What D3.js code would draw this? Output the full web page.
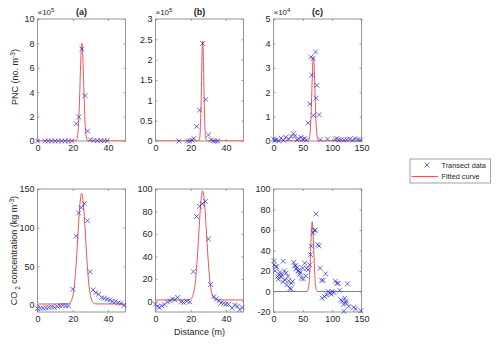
<!DOCTYPE html>
<html>
<head>
<meta charset="utf-8">
<script src="https://cdn.jsdelivr.net/npm/d3@7"></script>
<style>
body { margin: 0; background: #fff; }
text { font-family: "Liberation Sans", Arial, Helvetica, sans-serif; fill: #262626; }
</style>
</head>
<body>
<div id="chart"></div>
<script>
// panel titles + axis limits / ticks
var panelTitles = ["(a)", "(b)", "(c)"];
var xLimAB = [0, 50], xLimC = [0, 150];
var xTicksAB = [0, 20, 40], xTicksC = [0, 50, 100, 150];
var pncLimA = [0, 10], pncLimB = [0, 3], pncLimC = [0, 5];
var pncTicksA = [0, 2, 4, 6, 8, 10];
var pncTicksB = [0, 0.5, 1, 1.5, 2, 2.5, 3];
var pncTicksC = [0, 1, 2, 3, 4, 5];
var pncExp = ["5", "5", "4"];
var co2LimA = [-9, 150], co2LimB = [-9.5, 100], co2LimC = [-20, 100];
var co2TicksA = [0, 50, 100, 150];
var co2TicksB = [0, 20, 40, 60, 80, 100];
var co2TicksC = [-20, 0, 20, 40, 60, 80, 100];

// PNC transect data (x10^5 / x10^4)
var pncAx = [0, 4.2, 6.1, 8, 10, 11.8, 13.8, 15.7, 17.6, 19.5, 22, 23.5, 25.2, 27, 28.5, 30, 32, 34, 36, 37.9, 39.6];
var pncAy = [0, 0, 0, 0, 0, 0, 0, 0, 0, 0, 1.42, 1.97, 7.55, 3.72, 0.82, 0.1, 0.05, 0.03, 0.02, 0.02, 0.02];
var pncBx = [13.3, 18.2, 19.5, 20.8, 21.8, 23.4, 25.1, 26.8, 28.6, 30.1, 31.5, 32.9, 34.1, 35.4];
var pncBy = [0, 0, 0, 0.02, 0.06, 0.36, 0.76, 2.4, 1.02, 0.15, 0.03, 0, 0, 0];
var pncCx = [0, 2, 5, 9, 13, 17, 21, 26, 30, 34, 36, 40, 43, 47, 50, 53, 56, 59, 62, 65, 63.7, 67.4, 71.7, 73.9, 72.8, 68.3, 77.7, 80, 92, 105, 108, 111, 115, 120, 125, 130, 135, 139, 144, 148];
var pncCy = [0.08, 0.03, 0.05, 0, 0.12, 0.03, 0.15, 0.08, 0.18, 0.3, 0.2, 0.05, 0.1, 0.15, 0.07, 0.1, 0.04, 0.74, 1.52, 2.7, 3.44, 3.38, 3.65, 2.28, 1.76, 1.05, 1.08, 0.05, 0.08, 0.06, 0.1, 0.04, 0.05, 0.04, 0.06, 0.08, 0.03, 0.1, 0.06, 0.04];

// PNC fitted curves
var fitPncAx = [0, 21, 22, 22.5, 23, 23.5, 24, 24.5, 25, 25.2, 25.5, 26, 26.5, 27, 27.5, 28, 28.5, 29, 50];
var fitPncAy = [0, 0, 0.05, 0.21, 0.71, 1.89, 3.9, 6.26, 7.84, 8.0, 7.65, 5.81, 3.44, 1.58, 0.57, 0.16, 0.03, 0, 0];
var fitPncBx = [0, 24, 24.5, 25, 25.5, 26, 26.3, 26.55, 26.8, 27.05, 27.3, 27.6, 28.1, 28.6, 29.1, 29.6, 50];
var fitPncBy = [0, 0, 0.005, 0.05, 0.33, 1.15, 1.82, 2.28, 2.45, 2.28, 1.82, 1.15, 0.33, 0.05, 0.005, 0, 0];
var fitPncCx = [0, 59, 60, 61, 62, 63, 64, 65, 66, 67, 68, 69, 70, 71, 72, 73, 74, 75, 76, 77, 150];
var fitPncCy = [0, 0, 0.03, 0.09, 0.24, 0.54, 1.06, 1.77, 2.57, 3.2, 3.45, 3.2, 2.57, 1.77, 1.06, 0.54, 0.24, 0.09, 0.03, 0, 0];

// CO2 transect data
var co2Ax = [0, 1.6, 3.2, 4.8, 6.4, 8, 9.6, 11.2, 12.8, 14.4, 16, 17.6, 20, 21.9, 23.4, 24.9, 26.6, 28.4, 29.9, 31.6, 33.1, 34.7, 36.5, 38, 39.5, 41, 42.5, 44.2, 45.9, 47.4, 49.1];
var co2Ay = [-4.5, -4, -4, -3.5, -3, -2.5, -3, -2, -1, -0.5, -1, -1, 20.5, 89, 119, 126, 131, 109, 43, 19.5, 16, 14, 9.5, 8.7, 7.4, 6.5, 4.8, 4.3, 3, 2.2, -0.5];
var co2Bx = [0, 1, 2.2, 3.5, 5, 6.8, 8.3, 9.7, 11, 12.6, 14.5, 16, 17.8, 19.5, 21.5, 23.3, 25, 26.6, 28.4, 30.1, 31.3, 33.2, 34.6, 36, 37.2, 38.7, 40, 41.5, 43.5, 45, 46.5, 47.8, 49.2];
var co2By = [-2.5, -4.5, -5.5, -4, -3, -0.5, 0.5, 2, 1.5, 3.5, -0.5, -1, 0, -0.5, 26.5, 75.5, 84.5, 86.8, 89, 55.5, 15, 4.2, 2.2, 0.5, -1.5, -1.8, -2.5, -2.7, -6, -3.3, -4.3, -7.5, -5.5];
var co2Cx = [0.8, 1, 4, 3, 5.4, 6.9, 8, 10.3, 11, 12.6, 14, 15.5, 16.3, 18.9, 19.6, 21.2, 22.5, 24.6, 25.8, 28, 30, 30.3, 32.6, 34.5, 36, 37.8, 38.5, 40.6, 41.5, 42.9, 44.6, 45.5, 47.5, 49.8, 51, 53.2, 55, 56.5, 59, 61.8, 63.2, 64.3, 67.7, 69.8, 72.5, 71, 75.5, 77.5, 79.6, 81.9, 84.5, 88.8, 83, 87, 90.5, 93.3, 96.2, 98.5, 100, 103, 105.3, 108, 110.3, 112.8, 114.5, 117.3, 119.5, 121.4, 123.6, 126, 124, 128.3, 120, 136.8, 140, 148.8];
var co2Cy = [30, 26, 24.4, 20, 24, 14.7, 12, 16.3, 18.7, 14, 16, 9.4, 29.5, 20.2, 11.2, 17.9, 6.5, 14.7, 10.4, 3, 2.3, 8.1, 9.8, 28.5, 25, 25.1, 22, 23.5, 20, 20.5, 16.9, 18.7, 13, 22.8, 12.2, 27.7, 15.3, 22.6, 21.2, 26, 36, 44.3, 57.2, 59.6, 75.6, 60, 45.8, 44.5, 22.7, 11, 10.8, 17.3, -6.6, -4.9, -3.3, 0, -1.7, -2.6, 0, -1, 10, 8, 8, 1.2, -8.2, -9.5, -12.5, -6.5, -9.5, 7.5, -11.5, -14.5, -19.3, -15.5, -17, -18.7];

// CO2 fitted curves
var fitCo2Ax = [0, 17.1, 18.1, 19.1, 20.1, 21.1, 22.1, 23.1, 24.1, 25.1, 26.1, 27.1, 28.1, 29.1, 30.1, 31.1, 32.1, 33.1, 50];
var fitCo2Ay = [1.3, 1.5, 2.2, 4.8, 12.1, 28.6, 57.8, 95.8, 130.3, 144.3, 130.3, 95.8, 57.8, 28.6, 12.1, 4.8, 2.2, 1.5, 1.3];
var fitCo2Bx = [0, 18.8, 19.8, 20.8, 21.8, 22.8, 23.8, 24.8, 25.8, 26.8, 27.8, 28.8, 29.8, 30.8, 31.8, 32.8, 33.8, 34.8, 50];
var fitCo2By = [1.2, 1.3, 1.8, 3.6, 8.5, 19.7, 39.5, 65.4, 88.7, 98.2, 88.7, 65.4, 39.5, 19.7, 8.5, 3.6, 1.8, 1.3, 1.2];
var fitCo2Cx = [0, 57, 58, 59, 60, 61, 62, 63, 64, 65, 66, 67, 68, 69, 70, 71, 72, 73, 74, 75, 150];
var fitCo2Cy = [0, 0, 0.6, 1.8, 4.7, 10.7, 20.8, 35, 50.6, 63.2, 68, 63.2, 50.6, 35, 20.8, 10.7, 4.7, 1.8, 0.6, 0, 0];

var legendLabels = ["Transect data", "Fitted curve"];

var W = 500, H = 346;
var markColor = "#2a2ad2", fitColor = "#e8282e", boxColor = "#8a8a8a";

var svg = d3.select('#chart').append('svg')
	.attr('width', W)
	.attr('height', H);

var colLeft = [37.5, 155.5, 273.5], panelW = 88;
var rowTop = [19, 189], rowH = [122, 123];

function zip(a, b) { return a.map(function(v, i) { return [v, b[i]]; }); }
var fmt = function(d) { return String(d); };

var panels = [
	{ row: 0, col: 0, xLim: xLimAB, xTicks: xTicksAB, yLim: pncLimA, yTicks: pncTicksA, pts: zip(pncAx, pncAy), fit: zip(fitPncAx, fitPncAy) },
	{ row: 0, col: 1, xLim: xLimAB, xTicks: xTicksAB, yLim: pncLimB, yTicks: pncTicksB, pts: zip(pncBx, pncBy), fit: zip(fitPncBx, fitPncBy) },
	{ row: 0, col: 2, xLim: xLimC, xTicks: xTicksC, yLim: pncLimC, yTicks: pncTicksC, pts: zip(pncCx, pncCy), fit: zip(fitPncCx, fitPncCy) },
	{ row: 1, col: 0, xLim: xLimAB, xTicks: xTicksAB, yLim: co2LimA, yTicks: co2TicksA, pts: zip(co2Ax, co2Ay), fit: zip(fitCo2Ax, fitCo2Ay) },
	{ row: 1, col: 1, xLim: xLimAB, xTicks: xTicksAB, yLim: co2LimB, yTicks: co2TicksB, pts: zip(co2Bx, co2By), fit: zip(fitCo2Bx, fitCo2By) },
	{ row: 1, col: 2, xLim: xLimC, xTicks: xTicksC, yLim: co2LimC, yTicks: co2TicksC, pts: zip(co2Cx, co2Cy), fit: zip(fitCo2Cx, fitCo2Cy) }
];

var crossPath = "M-2.4,-2.4L2.4,2.4M-2.4,2.4L2.4,-2.4";

panels.forEach(function(p, i) {
	var x0 = colLeft[p.col], y0 = rowTop[p.row], h = rowH[p.row];
	var x = d3.scaleLinear().domain(p.xLim).range([0, panelW]);
	var y = d3.scaleLinear().domain(p.yLim).range([h, 0]);
	var g = svg.append('g').attr('transform', 'translate(' + x0 + ',' + y0 + ')');

	g.append('clipPath').attr('id', 'clip' + i)
		.append('rect').attr('width', panelW).attr('height', h);

	// axes (ticks inside, mirrored on top/right)
	var tk = 2;
	g.append('g').attr('transform', 'translate(0,' + h + ')')
		.call(d3.axisBottom(x).tickValues(p.xTicks).tickFormat(fmt).tickSizeInner(-tk).tickSizeOuter(0).tickPadding(4));
	g.append('g')
		.call(d3.axisLeft(y).tickValues(p.yTicks).tickFormat(fmt).tickSizeInner(-tk).tickSizeOuter(0).tickPadding(3));
	g.append('g').call(d3.axisTop(x).tickValues(p.xTicks).tickSizeInner(-tk).tickSizeOuter(0).tickFormat(''));
	g.append('g').attr('transform', 'translate(' + panelW + ',0)')
		.call(d3.axisRight(y).tickValues(p.yTicks).tickSizeInner(-tk).tickSizeOuter(0).tickFormat(''));
	g.selectAll('.domain').remove();
	g.selectAll('.tick line').attr('stroke', boxColor).attr('stroke-width', 0.8);
	g.selectAll('.tick text').attr('font-size', '9px')
		.attr('font-family', '"Liberation Sans", Arial, sans-serif').attr('fill', '#262626');

	g.append('rect').attr('width', panelW).attr('height', h)
		.attr('fill', 'none').attr('stroke', boxColor).attr('stroke-width', 0.9);

	// fitted curve
	var line = d3.line().x(function(d) { return x(d[0]); }).y(function(d) { return y(d[1]); })
		.curve(d3.curveMonotoneX);
	g.append('path').datum(p.fit)
		.attr('clip-path', 'url(#clip' + i + ')')
		.attr('d', line)
		.attr('fill', 'none').attr('stroke', fitColor).attr('stroke-width', 0.8);

	// transect data crosses
	g.selectAll('path.pt').data(p.pts).enter().append('path')
		.attr('class', 'pt')
		.attr('transform', function(d) { return 'translate(' + x(d[0]) + ',' + y(d[1]) + ')'; })
		.attr('d', crossPath)
		.attr('fill', 'none').attr('stroke', markColor).attr('stroke-width', 0.7);

	if (p.row === 0) {
		g.append('text').attr('x', panelW / 2).attr('y', -4)
			.attr('text-anchor', 'middle').attr('font-size', '9px').attr('font-weight', 'bold')
			.text(panelTitles[p.col]);
		var ex = g.append('text').attr('x', 0).attr('y', -4).attr('font-size', '8px').attr('fill', '#555');
		ex.append('tspan').text('\u00d710');
		ex.append('tspan').attr('dy', -3.5).attr('font-size', '6px').text(pncExp[p.col]);
	}
});

// y labels
var pncLabel = svg.append('text')
	.attr('transform', 'translate(17.5,' + (rowTop[0] + rowH[0] / 2 - 3) + ') rotate(-90)')
	.attr('text-anchor', 'middle').attr('font-size', '9px');
pncLabel.append('tspan').text('PNC (no. m');
pncLabel.append('tspan').attr('dy', -3).attr('font-size', '6.5px').text('-3');
pncLabel.append('tspan').attr('dy', 3).text(')');

var co2Label = svg.append('text')
	.attr('transform', 'translate(16.5,' + (rowTop[1] + rowH[1] / 2) + ') rotate(-90)')
	.attr('text-anchor', 'middle').attr('font-size', '9px');
co2Label.append('tspan').text('CO');
co2Label.append('tspan').attr('dy', 3).attr('font-size', '6.5px').text(' 2');
co2Label.append('tspan').attr('dy', -3).text(' concentration (kg m');
co2Label.append('tspan').attr('dy', -3).attr('font-size', '6.5px').text('-3');
co2Label.append('tspan').attr('dy', 3).text(')');

// x label
svg.append('text').attr('x', colLeft[1] + panelW / 2).attr('y', 335)
	.attr('text-anchor', 'middle').attr('font-size', '9px')
	.text('Distance (m)');

// legend
var lg = svg.append('g').attr('transform', 'translate(410,159)');
lg.append('rect').attr('width', 80.5).attr('height', 24)
	.attr('fill', '#fff').attr('stroke', boxColor).attr('stroke-width', 0.8);
lg.append('path').attr('transform', 'translate(17,6)').attr('d', crossPath)
	.attr('fill', 'none').attr('stroke', markColor).attr('stroke-width', 0.7);
lg.append('line').attr('x1', 1.5).attr('x2', 28).attr('y1', 17.5).attr('y2', 17.5)
	.attr('stroke', fitColor).attr('stroke-width', 0.8);
lg.selectAll('text.lab').data(legendLabels).enter().append('text')
	.attr('class', 'lab')
	.attr('x', 31.5).attr('y', function(d, i) { return 8.7 + i * 11.3; })
	.attr('font-size', '7.3px')
	.text(function(d) { return d; });
</script>
</body>
</html>
